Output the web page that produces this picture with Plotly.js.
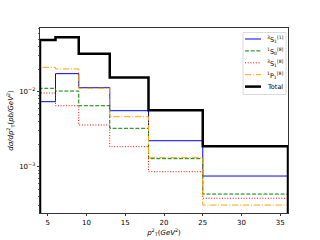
<!DOCTYPE html>
<html>
<head>
<meta charset="utf-8">
<script src="https://cdn.plot.ly/plotly-3.0.1.min.js"></script>
<style>html,body{margin:0;padding:0;background:#fff;}#plot{width:320px;height:240px;}</style>
</head>
<body>
<div id="plot"></div>
<script>
// bin edges in p_T^2 (GeV^2)
const binEdges = [4, 6, 9, 13, 18, 25, 36];
// series values per bin (pb/GeV^2)
const s3S1_1 = [0.00736, 0.0174, 0.0113, 0.00558, 0.00222, 0.000751];
const s1S0_8 = [0.0111, 0.0102, 0.0065, 0.00325, 0.00128, 0.000432];
const s3S1_8 = [0.0096, 0.0065, 0.0036, 0.00185, 0.000858, 0.00038];
const s1P1_8 = [0.0211, 0.0201, 0.0111, 0.00464, 0.00132, 0.000308];
const sTotal = [0.0489, 0.0531, 0.0321, 0.0154, 0.00565, 0.00187];
const seriesNames = [
  '<sup>3</sup>S<sub>1</sub><sup>[1]</sup>',
  '<sup>1</sup>S<sub>0</sub><sup>[8]</sup>',
  '<sup>3</sup>S<sub>1</sub><sup>[8]</sup>',
  '<sup>1</sup>P<sub>1</sub><sup>[8]</sup>',
  'Total'
];
const seriesColors = ['blue', 'green', 'red', 'orange', 'black'];
const seriesWidths = [1, 1, 1, 1, 2.5];
const seriesDash = ['solid', '4px,1.7px', '1px,1.7px', '6.5px,1.7px,1px,1.7px', 'solid'];
const seriesData = [s3S1_1, s1S0_8, s3S1_8, s1P1_8, sTotal];
const xTickVals = [5, 10, 15, 20, 25, 30, 35];
const yTickVals = [0.001, 0.01];
const yTickText = ['10<sup>−3</sup>', '10<sup>−2</sup>'];

const FLOOR = 1e-6;
function stepTrace(vals, i) {
  const x = [binEdges[0]].concat(binEdges).concat([binEdges[binEdges.length - 1]]);
  const y = [FLOOR].concat(vals).concat([vals[vals.length - 1], FLOOR]);
  return {
    x: x, y: y, name: seriesNames[i], type: 'scatter', mode: 'lines', showlegend: false,
    line: {shape: 'hv', color: seriesColors[i], width: seriesWidths[i], dash: seriesDash[i]}
  };
}
const traces = seriesData.map((v, i) => stepTrace(v, i));

// plot area in pixels (for a compact legend in paper coords)
const PL = 40, PR = 288, PT = 28, PB = 213;
const px = v => (v - PL) / (PR - PL);
const py = v => (PB - v) / (PB - PT);

const shapes = [{
  type: 'rect', xref: 'paper', yref: 'paper',
  x0: px(243), x1: px(286), y0: py(32.5), y1: py(94.5),
  fillcolor: 'rgba(255,255,255,0.8)', line: {color: '#d0d0d0', width: 0.8}
}];
const annotations = [];
seriesNames.forEach((n, i) => {
  const yy = 39 + i * 11.9;
  shapes.push({
    type: 'line', xref: 'paper', yref: 'paper',
    x0: px(245), x1: px(261), y0: py(yy), y1: py(yy),
    line: {color: seriesColors[i], width: seriesWidths[i], dash: seriesDash[i]}
  });
  annotations.push({
    xref: 'paper', yref: 'paper', x: px(265), y: py(yy + (i < 4 ? 0.5 : 0)),
    xanchor: 'left', yanchor: 'middle', text: n, showarrow: false,
    font: {family: 'DejaVu Sans', size: 6.5, color: '#000'}
  });
});

const minorVals = [];
for (let e = -4; e <= -1; e++) {
  for (let m = 2; m <= 9; m++) minorVals.push(m * Math.pow(10, e));
}

const layout = {
  width: 320, height: 240,
  margin: {l: PL, r: 320 - PR, t: PT, b: 240 - PB},
  paper_bgcolor: '#fff', plot_bgcolor: '#fff',
  font: {family: 'DejaVu Sans', size: 7, color: '#000'},
  showlegend: false,
  shapes: shapes, annotations: annotations,
  xaxis: {
    range: [4, 36], tickmode: 'array', tickvals: xTickVals,
    ticks: 'outside', ticklen: 2.5, tickwidth: 0.8, tickcolor: '#000',
    showline: true, linecolor: '#000', linewidth: 0.8, mirror: true,
    showgrid: false, zeroline: false,
    tickfont: {size: 7},
    title: {text: '<i>p</i><sup>2</sup><sub>T</sub>(<i>GeV</i><sup>2</sup>)', font: {size: 7}, standoff: 2}
  },
  yaxis: {
    type: 'log', range: [-3.617, -1.151],
    tickmode: 'array', tickvals: yTickVals, ticktext: yTickText,
    ticks: 'outside', ticklen: 2.5, tickwidth: 0.8, tickcolor: '#000',
    minor: {tickmode: 'array', tickvals: minorVals, ticks: 'outside', ticklen: 1.4, tickwidth: 0.6, tickcolor: '#000', showgrid: false},
    showline: true, linecolor: '#000', linewidth: 0.8, mirror: true,
    showgrid: false, zeroline: false,
    tickfont: {size: 7},
    title: {text: '<i>dσ/dp</i><sup>2</sup><sub>T</sub>(<i>pb/GeV</i><sup>2</sup>)', font: {size: 7}, standoff: 4}
  }
};

Plotly.newPlot('plot', traces, layout, {staticPlot: true, displayModeBar: false});
</script>
</body>
</html>
